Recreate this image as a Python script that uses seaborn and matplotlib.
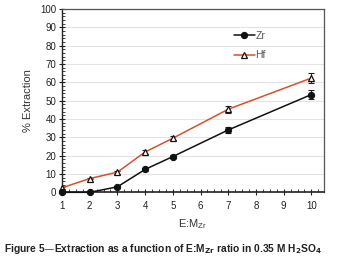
import matplotlib
matplotlib.use("Agg")
import matplotlib.pyplot as plt
import seaborn as sns
import pandas as pd
import numpy as np
from matplotlib.ticker import MultipleLocator

sns.set_style("white")
plt.rcParams['font.family'] = ['Liberation Sans', 'DejaVu Sans']

ratio = [1, 2, 3, 4, 5, 7, 10]
zr = [0, 0, 3, 12.5, 19.5, 34, 53.3]
hf = [2.5, 7.5, 11, 22, 29.5, 45.3, 62.3]
zr_err = [0.3, 0.3, 0.5, 1.0, 1.0, 1.8, 2.5]
hf_err = [0.5, 0.5, 0.8, 1.2, 1.2, 2.0, 2.8]

df = pd.DataFrame({
    "ratio": ratio * 2,
    "ext": zr + hf,
    "metal": ["Zr"] * len(ratio) + ["Hf"] * len(ratio),
})

fig = plt.figure(figsize=(3.37, 2.69), dpi=100)
ax = fig.add_axes([0.184, 0.285, 0.777, 0.682])

colors = {"Zr": "#111111", "Hf": "#d4512e"}
ax.errorbar(ratio, zr, yerr=zr_err, fmt='none', ecolor='#222222', elinewidth=0.8, capsize=2.2, capthick=0.8, zorder=2)
ax.errorbar(ratio, hf, yerr=hf_err, fmt='none', ecolor='#222222', elinewidth=0.8, capsize=2.2, capthick=0.8, zorder=2)

sns.lineplot(data=df[df.metal == "Zr"], x="ratio", y="ext", ax=ax, color=colors["Zr"],
             marker="o", markersize=4.5, markerfacecolor="#111111", markeredgecolor="#111111",
             linewidth=1.1, label="Zr", zorder=4, clip_on=False)
sns.lineplot(data=df[df.metal == "Hf"], x="ratio", y="ext", ax=ax, color=colors["Hf"],
             marker="^", markersize=5, markerfacecolor="white", markeredgecolor="#111111",
             markeredgewidth=0.9, linewidth=1.1, label="Hf", zorder=3, clip_on=False)

ax.set_xlim(1, 10.45)
ax.set_ylim(0, 100)
ax.xaxis.set_major_locator(MultipleLocator(1))
ax.xaxis.set_minor_locator(MultipleLocator(0.25))
ax.yaxis.set_major_locator(MultipleLocator(10))
ax.yaxis.set_minor_locator(MultipleLocator(2))
ax.yaxis.grid(True, color="#e4e4e4", linewidth=0.8)
ax.set_axisbelow(True)

for s in ax.spines.values():
    s.set_color("#555555")
    s.set_linewidth(0.9)
ax.spines['left'].set_color("#222222")
ax.spines['bottom'].set_color("#222222")
ax.spines['bottom'].set_linewidth(1.2)
ax.spines['left'].set_linewidth(1.0)

ax.tick_params(axis='both', which='major', direction='inout', length=4, width=0.8,
               labelsize=7, colors="#222222", pad=2)
ax.tick_params(axis='both', which='minor', direction='in', length=2, width=0.6, colors="#222222")
ax.tick_params(axis='x', which='both', bottom=True, top=False)
ax.tick_params(axis='y', which='both', left=True, right=False)
ax.tick_params(axis='x', which='major', pad=4)

ax.set_xlabel("E:M$_{\\mathregular{Zr}}$", fontsize=8, color="#333333", labelpad=5)
ax.set_ylabel("% Extraction", fontsize=8, color="#333333", labelpad=5)

leg = ax.legend(loc="upper left", bbox_to_anchor=(0.62, 0.93), frameon=False, fontsize=7.5,
                handlelength=2.0, handletextpad=0.1, labelspacing=0.9, labelcolor="#555555")

fig.text(0.012, 0.075, "Figure 5\u2014Extraction as a function of E:M$_{\\mathbf{Zr}}$ ratio in 0.35 M H$_{\\mathbf{2}}$SO$_{\\mathbf{4}}$",
         fontsize=7.4, fontweight="bold", color="#222222", ha="left", va="center")

fig.savefig("out.png", dpi=100)
